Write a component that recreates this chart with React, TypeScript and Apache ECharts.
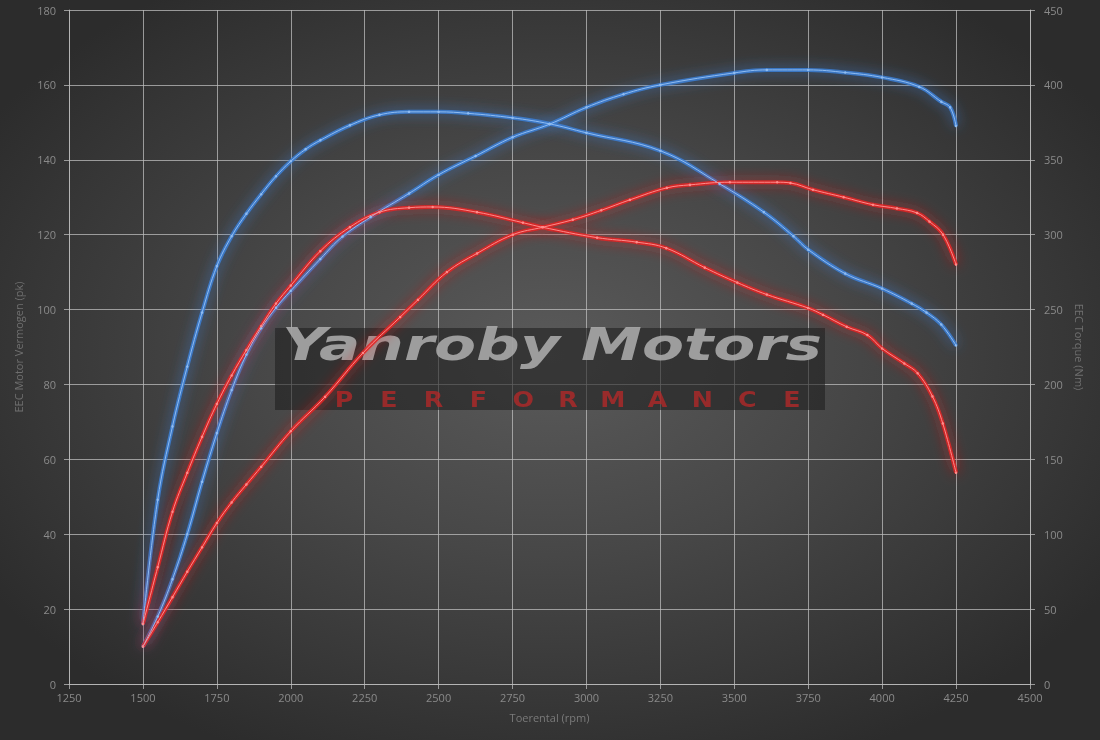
import React, { useEffect, useRef } from "react";
import * as echarts from "echarts";

// ---- data ----
const rpmTicks = { min: 1250, max: 4500, step: 250 };

const blueTorqueRpm = [1500, 1550, 1600, 1650, 1700, 1750, 1800, 1850, 1900, 1950, 2000, 2050, 2100, 2200, 2300, 2400, 2500, 2600, 2750, 2875, 3000, 3250, 3450, 3600, 3700, 3750, 3875, 4000, 4100, 4150, 4200, 4250];
const blueTorqueNm = [40, 123, 172, 212, 248, 279, 299, 314, 327, 339, 349, 357, 363, 373, 380, 382, 382, 381, 378, 374, 368, 356, 334, 315, 299, 290, 274, 264, 254, 248, 240, 226];

const bluePowerRpm = [1500, 1550, 1600, 1650, 1700, 1750, 1800, 1850, 1900, 1950, 2000, 2100, 2175, 2270, 2400, 2500, 2625, 2750, 2875, 3000, 3125, 3250, 3500, 3610, 3750, 3875, 4000, 4125, 4200, 4230, 4250];
const bluePowerPk = [10, 18, 28, 40, 54, 67, 78.5, 88, 95, 100.5, 105, 113.5, 119.5, 124.7, 131, 136, 141, 146, 149.5, 154, 157.5, 160, 163.2, 164, 164, 163.3, 162, 159.5, 155.5, 154, 149];

const redTorqueRpm = [1500, 1550, 1600, 1650, 1700, 1750, 1800, 1850, 1900, 1950, 2000, 2100, 2200, 2300, 2400, 2480, 2630, 2785, 2850, 3036, 3170, 3270, 3400, 3510, 3610, 3750, 3800, 3880, 3950, 4000, 4075, 4120, 4170, 4205, 4250];
const redTorqueNm = [40, 78, 115, 141, 165, 187, 206, 223, 239, 254, 266, 289, 305, 315, 318, 318.5, 315, 308, 305, 298, 295, 291, 278, 268, 260, 251, 246.5, 238.5, 233, 224, 214, 207.5, 192, 174, 141];

const redPowerRpm = [1500, 1550, 1600, 1650, 1700, 1750, 1800, 1850, 1900, 2000, 2116, 2244, 2370, 2430, 2528, 2630, 2751, 2853, 2954, 3050, 3147, 3272, 3350, 3485, 3645, 3690, 3766, 3870, 3969, 4050, 4118, 4160, 4206, 4250];
const redPowerPk = [10, 16.5, 23.2, 30, 36.5, 43, 48.5, 53.3, 58, 67.5, 76.7, 88.4, 98, 102.6, 110, 115, 120, 122, 124, 126.5, 129.3, 132.5, 133.3, 134, 134, 133.8, 132, 130, 128, 127, 125.8, 123.5, 120, 112];

const leftAxis = { min: 0, max: 180, step: 20, name: "EEC Motor Vermogen (pk)" };
const rightAxis = { min: 0, max: 450, step: 50, name: "EEC Torque (Nm)" };
const xAxisName = "Toerental (rpm)";
const brandTitle = "Yanroby Motors";
const brandSub = "PERFORMANCE";

const zip = (xs: number[], ys: number[]) => xs.map((x, i) => [x, ys[i]]);

function curve(name: string, data: number[][], yAxisIndex: number, glow: string, core: string) {
  return [
    {
      name: name + " glow",
      type: "line",
      yAxisIndex,
      data,
      smooth: 0.4,
      showSymbol: false,
      symbol: "none",
      z: 3,
      lineStyle: { width: 4, color: glow, shadowBlur: 13, shadowColor: glow, opacity: 0.85 },
    },
    {
      name,
      type: "line",
      yAxisIndex,
      data,
      smooth: 0.4,
      showSymbol: true,
      symbol: "circle",
      symbolSize: 2.5,
      z: 4,
      itemStyle: { color: core },
      lineStyle: { width: 1, color: core },
    },
  ];
}

export default function App() {
  const ref = useRef<HTMLDivElement>(null);
  useEffect(() => {
    if (!ref.current) return;
    const chart = echarts.init(ref.current, null, { renderer: "svg" });
    const labelColor = "#8a8a8a";
    const gridColor = "rgba(190,190,190,0.75)";
    const font = "'Open Sans', 'DejaVu Sans', sans-serif";
    const letters = brandSub.split("");
    const plain = (v: number) => String(v);
    const option: any = {
      animation: false,
      backgroundColor: "transparent",
      grid: { left: 69, right: 70, top: 10, bottom: 56 },
      xAxis: {
        type: "value",
        min: rpmTicks.min,
        max: rpmTicks.max,
        interval: rpmTicks.step,
        name: xAxisName,
        nameLocation: "middle",
        nameGap: 28,
        nameTextStyle: { color: "#7a7a7a", fontSize: 11, fontFamily: font },
        axisLine: { show: true, lineStyle: { color: gridColor } },
        axisTick: { show: true, length: 5, lineStyle: { color: gridColor } },
        axisLabel: { color: labelColor, fontSize: 11, fontFamily: font, margin: 8, formatter: plain },
        splitLine: { show: true, lineStyle: { color: gridColor, width: 1 } },
      },
      yAxis: [
        {
          type: "value",
          position: "left",
          min: leftAxis.min,
          max: leftAxis.max,
          interval: leftAxis.step,
          name: leftAxis.name,
          nameLocation: "middle",
          nameGap: 45,
          nameTextStyle: { color: "#6f6f6f", fontSize: 11, fontFamily: font },
          axisLine: { show: true, lineStyle: { color: gridColor } },
          axisTick: { show: true, length: 5, lineStyle: { color: gridColor } },
          axisLabel: { color: labelColor, fontSize: 11, fontFamily: font, margin: 13, formatter: plain },
          splitLine: { show: true, lineStyle: { color: gridColor, width: 1 } },
        },
        {
          type: "value",
          position: "right",
          min: rightAxis.min,
          max: rightAxis.max,
          interval: rightAxis.step,
          name: rightAxis.name,
          nameLocation: "middle",
          nameRotate: -90,
          nameGap: 42,
          nameTextStyle: { color: "#6f6f6f", fontSize: 11, fontFamily: font },
          axisLine: { show: true, lineStyle: { color: gridColor } },
          axisTick: { show: true, length: 5, lineStyle: { color: gridColor } },
          axisLabel: { color: labelColor, fontSize: 11, fontFamily: font, margin: 14, formatter: plain },
          splitLine: { show: false },
        },
      ],
      graphic: [
        {
          type: "group",
          z: 1,
          children: [
            {
              type: "rect",
              z: 1,
              shape: { x: 275, y: 328, width: 550, height: 82 },
              style: { fill: "rgba(32,32,32,0.6)" },
            },
            {
              type: "text",
              z: 2,
              x: 282,
              y: 345,
              scaleX: 1.36,
              style: {
                text: brandTitle,
                font: "italic bold 45px 'DejaVu Sans', sans-serif",
                fill: "rgba(172,172,172,0.88)",
                verticalAlign: "middle",
                align: "left",
              },
            },
            ...letters.map((ch, i) => ({
              type: "text",
              z: 2,
              x: 344 + i * 44.8,
              y: 400,
              scaleX: 1.15,
              style: {
                text: ch,
                font: "bold 22px 'DejaVu Sans', sans-serif",
                fill: "rgba(185,40,40,0.75)",
                align: "center",
                verticalAlign: "middle",
                shadowBlur: 5,
                shadowColor: "rgba(200,30,30,0.8)",
              },
            })),
          ],
        },
      ],
      series: [
        ...curve("Blue torque", zip(blueTorqueRpm, blueTorqueNm), 1, "#3d7fd6", "#8fbcf2"),
        ...curve("Blue power", zip(bluePowerRpm, bluePowerPk), 0, "#3d7fd6", "#8fbcf2"),
        ...curve("Red torque", zip(redTorqueRpm, redTorqueNm), 1, "#e42424", "#ff8a8a"),
        ...curve("Red power", zip(redPowerRpm, redPowerPk), 0, "#e42424", "#ff8a8a"),
      ],
    };
    chart.setOption(option);
    return () => chart.dispose();
  }, []);

  return (
    <div
      style={{
        position: "fixed",
        left: 0,
        top: 0,
        width: 1100,
        height: 740,
        background:
          "radial-gradient(ellipse 60% 60% at 50% 48%, #5a5a5a 0%, #474747 45%, #363636 80%, #2c2c2c 100%)",
      }}
    >
      <div ref={ref} style={{ width: 1100, height: 740 }} />
    </div>
  );
}
